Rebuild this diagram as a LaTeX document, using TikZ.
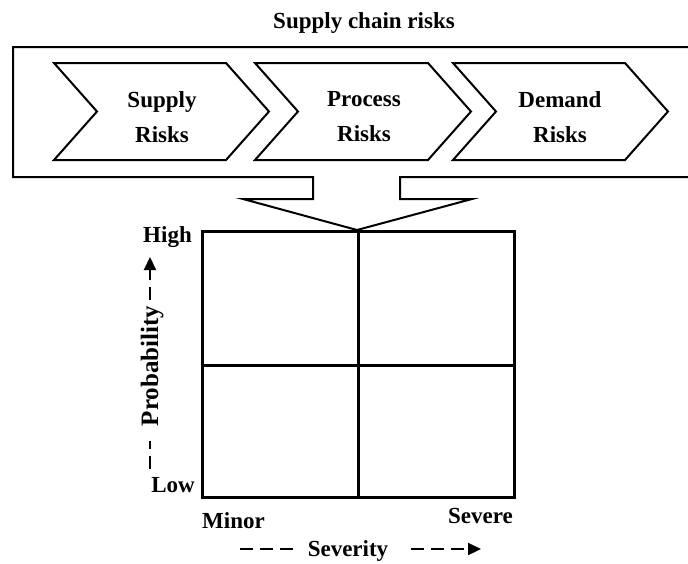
\documentclass[tikz,border=0pt]{standalone}
\usepackage{fontspec}
\setmainfont{Liberation Serif}
\usetikzlibrary{arrows.meta}
\begin{document}
\begin{tikzpicture}[x=1pt,y=-1pt,
  lbl/.style={font=\fontsize{23}{35}\selectfont\bfseries, inner sep=0pt},
  chev/.style={draw, line width=2pt, line join=miter},
  frame/.style={draw, line width=2pt, line join=miter},
  gridline/.style={draw, line width=3pt},
  axis/.style={line width=2.2pt, dash pattern=on 13pt off 7pt}]
\useasboundingbox (0,0) rectangle (688,563);
\clip (0,0) rectangle (688,563);
% title
\node[lbl, anchor=base] (title) at (364,28) {Supply chain risks};
% frame with downward arrow
\path[frame] (313,177) -- (13,177) -- (13,47) -- (700,47) -- (700,177) -- (400,177)
  -- (400,199) -- (472,199) -- (357,230) -- (243,199) -- (313,199) -- cycle;
% chevrons
\path[chev] (54,63) -- (226,63) -- (269,111.5) -- (226,160) -- (54,160) -- (97,111.5) -- cycle;
\path[chev] (255,63) -- (428,63) -- (471,111.5) -- (428,160) -- (255,160) -- (298,111.5) -- cycle;
\path[chev] (453,63) -- (625,63) -- (668,111.5) -- (625,160) -- (453,160) -- (496,111.5) -- cycle;
\node[lbl, align=center] (supply) at (162,117) {Supply\\Risks};
\node[lbl, align=center] (process) at (364,117) {Process\\Risks};
\node[lbl, align=center] (demand) at (560,117) {Demand\\Risks};
% grid
\path[gridline] (202,231) rectangle (514,497);
\path[gridline] (358,231) -- (358,497);
\path[gridline] (202,365) -- (514,365);
% axis labels
\node[lbl, anchor=base east] (high) at (192,242) {High};
\node[lbl, anchor=base east] (low) at (195,492) {Low};
\node[lbl, anchor=base west] (minor) at (202,528) {Minor};
\node[lbl, anchor=base east] (severe) at (513,523) {Severe};
\node[lbl, anchor=base] (severity) at (348,556) {Severity};
\node[lbl, font=\fontsize{25}{30}\selectfont\bfseries, rotate=90, anchor=base] (prob) at (158,366) {Probability};
% axis arrows
\coordinate (pstart) at (150,469);
\coordinate (ptip) at (150,257);
\coordinate (pa) at (150,441);
\coordinate (pb) at (150,300);
\draw[axis] (pstart) -- (pa);
\draw[axis, -{Triangle[length=13pt,width=12pt]}] (pb) -- (ptip);
\coordinate (sstart) at (240,549);
\coordinate (sa) at (293,549);
\coordinate (sb) at (411,549);
\coordinate (stip) at (481,549);
\draw[axis] (sstart) -- (sa);
\draw[axis, -{Triangle[length=13pt,width=12pt]}] (sb) -- (stip);
\end{tikzpicture}
\end{document}
